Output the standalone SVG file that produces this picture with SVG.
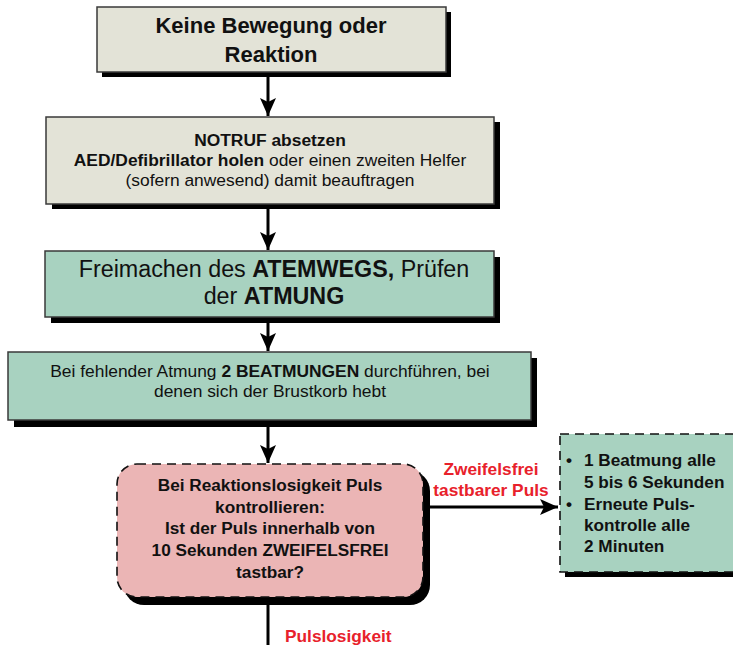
<svg xmlns="http://www.w3.org/2000/svg" width="733" height="645" viewBox="0 0 733 645">
<defs>
<style>
.t{font-family:"Liberation Sans",Arial,Helvetica,sans-serif;fill:#111}
.b{font-weight:bold}
.red{font-family:"Liberation Sans",Arial,sans-serif;font-weight:bold;font-size:17.3px;fill:#e8212b}
.beige{fill:#e3e3d7;stroke:#3a3a3a;stroke-width:1.5}
.green{fill:#a8d2c0;stroke:#3a3a3a;stroke-width:1.5}
.sh{fill:#000}
.dash{stroke:#111;stroke-width:1.6;stroke-dasharray:9 6}
.con{stroke:#000;stroke-width:3;fill:none}
</style>
<marker id="ah" markerUnits="userSpaceOnUse" markerWidth="22" markerHeight="18" viewBox="-20 -9 22 18" refX="0" refY="0" orient="auto">
<path d="M0,0 L-18,-8 L-14,0 L-18,8 Z" fill="#000"/>
</marker>
</defs>
<rect width="733" height="645" fill="#fff"/>

<g id="connectors">
<line class="con" x1="268" y1="77" x2="268" y2="116" marker-end="url(#ah)"/>
<line class="con" x1="268" y1="209" x2="268" y2="250" marker-end="url(#ah)"/>
<line class="con" x1="268" y1="323" x2="268" y2="351" marker-end="url(#ah)"/>
<line class="con" x1="268" y1="427" x2="268" y2="463" marker-end="url(#ah)"/>
<line class="con" x1="268" y1="604" x2="268" y2="645"/>
<line class="con" x1="428" y1="507" x2="558" y2="507" marker-end="url(#ah)"/>
</g>

<g id="n1">
<rect class="sh" x="102" y="12" width="349" height="65"/>
<rect class="beige" x="97" y="7" width="349" height="65"/>
<text class="t b" x="271" y="33" font-size="22" text-anchor="middle">Keine Bewegung oder</text>
<text class="t b" x="271" y="62" font-size="22" text-anchor="middle">Reaktion</text>
</g>

<g id="n2">
<rect class="sh" x="52" y="122" width="448" height="87"/>
<rect class="beige" x="46" y="117" width="448" height="87"/>
<text class="t b" x="270" y="146" font-size="17.4" text-anchor="middle">NOTRUF absetzen</text>
<text class="t" x="270" y="166" font-size="17.4" text-anchor="middle"><tspan class="b">AED/Defibrillator holen</tspan> oder einen zweiten Helfer</text>
<text class="t" x="270" y="186" font-size="17.4" text-anchor="middle">(sofern anwesend) damit beauftragen</text>
</g>

<g id="n3">
<rect class="sh" x="51" y="257" width="449" height="66"/>
<rect class="green" x="45" y="251" width="449" height="66"/>
<text class="t" x="274" y="277" font-size="23.3" text-anchor="middle">Freimachen des <tspan class="b">ATEMWEGS,</tspan> Prüfen</text>
<text class="t" x="274" y="304" font-size="23.3" text-anchor="middle">der <tspan class="b">ATMUNG</tspan></text>
</g>

<g id="n4">
<rect class="sh" x="14" y="358" width="523" height="69"/>
<rect class="green" x="8" y="352" width="523" height="68"/>
<text class="t" x="270" y="377" font-size="17.4" text-anchor="middle">Bei fehlender Atmung <tspan class="b">2 BEATMUNGEN</tspan> durchführen, bei</text>
<text class="t" x="270" y="397" font-size="17.4" text-anchor="middle">denen sich der Brustkorb hebt</text>
</g>

<g id="n5">
<rect class="sh" x="124" y="471" width="306" height="134" rx="20"/>
<rect class="dash" x="117" y="464" width="306" height="133" rx="20" fill="#ebb5b5"/>
<g class="t b" font-size="17.2" text-anchor="middle">
<text x="270" y="491">Bei Reaktionslosigkeit Puls</text>
<text x="270" y="513">kontrollieren:</text>
<text x="270" y="534">Ist der Puls innerhalb von</text>
<text x="270" y="556">10 Sekunden ZWEIFELSFREI</text>
<text x="270" y="578">tastbar?</text>
</g>
</g>

<g id="n6">
<rect class="sh" x="565" y="439" width="190" height="138"/>
<rect class="dash" x="560" y="434" width="190" height="138" fill="#a8d2c0"/>
<g class="t b" font-size="17.2">
<text x="566" y="466">•</text>
<text x="584" y="466">1 Beatmung alle</text>
<text x="584" y="488">5 bis 6 Sekunden</text>
<text x="566" y="510">•</text>
<text x="584" y="510">Erneute Puls-</text>
<text x="584" y="531">kontrolle alle</text>
<text x="584" y="552">2 Minuten</text>
</g>
</g>

<g id="labels">
<text class="red" x="491" y="475" text-anchor="middle">Zweifelsfrei</text>
<text class="red" x="491" y="496" text-anchor="middle">tastbarer Puls</text>
<text class="red" x="285" y="642">Pulslosigkeit</text>
</g>
</svg>
